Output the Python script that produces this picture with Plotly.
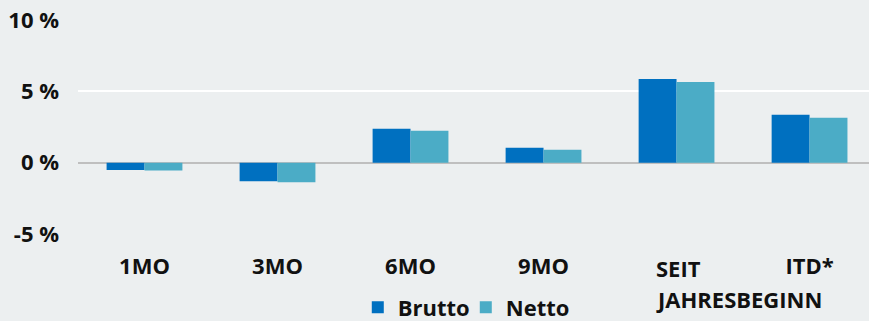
import plotly.graph_objects as go

categories = ["1MO", "3MO", "6MO", "9MO", "SEIT JAHRESBEGINN", "ITD*"]
tick_labels = ["1MO", "3MO", "6MO", "9MO", "", "ITD*"]
y_tickvals = [-5, 0, 5, 10]
y_ticktext = ["-5 %", "0 %", "5 %", "10 %"]
brutto = [-0.52, -1.30, 2.38, 1.05, 5.87, 3.36]
netto = [-0.55, -1.37, 2.24, 0.91, 5.66, 3.15]

BG = "#ECEFF0"
FONT = dict(family="Open Sans", size=22, color="#111111", weight=700)

fig = go.Figure()
fig.add_trace(go.Bar(x=list(range(len(categories))), y=brutto, name="Brutto",
                     marker=dict(color="#0070C0", line=dict(width=0))))
fig.add_trace(go.Bar(x=list(range(len(categories))), y=netto, name="Netto",
                     marker=dict(color="#4BACC6", line=dict(width=0))))

fig.update_layout(
    width=869, height=321,
    margin=dict(l=78, r=0, t=20, b=87),
    paper_bgcolor=BG, plot_bgcolor=BG,
    font=FONT,
    barmode="group", bargap=0.43, bargroupgap=0,
    showlegend=True,
    legend=dict(orientation="h", xref="container", yref="container",
                x=0.536, xanchor="center", y=0.042, yanchor="middle",
                font=FONT, bgcolor="rgba(0,0,0,0)", itemwidth=30,
                entrywidth=63, traceorder="normal"),
    xaxis=dict(range=[-0.5, 5.447], tickmode="array",
               tickvals=list(range(len(categories))), ticktext=tick_labels,
               showgrid=False, zeroline=False, showline=False, ticks="",
               ticklabelstandoff=17, tickfont=FONT, fixedrange=True),
    yaxis=dict(range=[-5, 10], tickmode="array", tickvals=y_tickvals,
               ticktext=y_ticktext, showgrid=True, gridcolor="#FFFFFF",
               gridwidth=2, zeroline=True, zerolinecolor="#BFBFBF",
               zerolinewidth=2, showline=False, ticks="",
               ticklabelstandoff=18, tickfont=FONT, fixedrange=True),
    annotations=[
        dict(text="SEIT", x=4, xref="x", xanchor="left", xshift=-23,
             y=0, yref="paper", yanchor="top", yshift=-17, showarrow=False,
             font=FONT, align="left"),
        dict(text="JAHRESBEGINN", x=4, xref="x", xanchor="left", xshift=-23,
             y=0, yref="paper", yanchor="top", yshift=-48, showarrow=False,
             font=FONT, align="left"),
    ],
)

fig.write_html("out.html")
